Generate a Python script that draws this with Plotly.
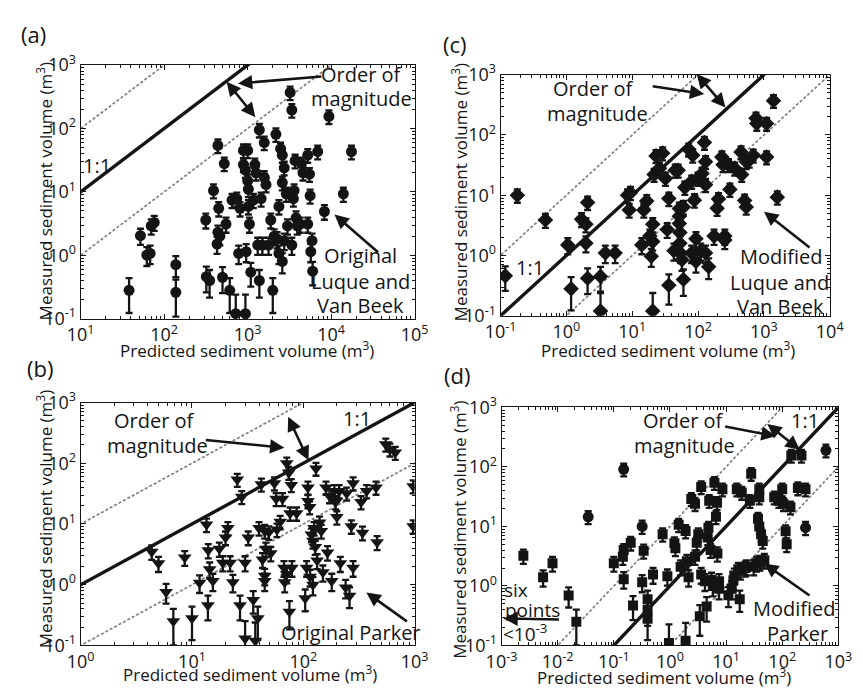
import plotly.graph_objects as go

W, H = 863, 696

# ---------------- data (predicted, measured) in m^3 ----------------
A_PTS = [(38,0.28),(52,2.04),(62,1.01),(68,1.07),(70,2.9),(76,3.3),(138,0.71),(138,0.26),
 (315,3.6),(320,0.46),(350,0.4),(390,10.5),(440,54),(450,5.5),(440,2.3),(430,1.5),(465,2.0),
 (500,0.45),(525,28),(550,3.1),(610,0.28),(650,7.4),(740,7.8),(780,1.07),(810,5.5),(720,0.12),
 (890,45),(1000,45),(890,27),(940,22),(960,1.14),(940,0.12),(1020,5.9),(1050,3.1),(1000,15),
 (1020,11),(1090,0.54),(1170,7.4),(1220,27),(1260,20),(1320,1.45),(1380,95),(1380,0.4),(1450,7.8),
 (1500,1.45),(1580,60),(1580,17),(1660,13),(1780,1.45),(1890,3.6),(2000,0.28),(2080,2.0),(2180,81),
 (2250,1.8),(2370,5.9),(2370,1.07),(2480,48),(2600,38),(2600,14),(2600,0.8),(2740,24),(2740,1.7),
 (2900,9.3),(3000,2.9),(3230,370),(3380,195),(3530,7.8),(3380,1.45),(3700,31),(3600,10.5),(3800,3.9),
 (3930,2.9),(4260,3.1),(4400,28),(4600,20),(5240,38),(5240,3.1),(5500,19),(5600,8.7),(5700,1.14),
 (5900,1.7),(6000,0.56),(6900,43),(8300,4.9),(9400,155),(14000,9.3),(17500,43)]

C_PTS = [(0.118,0.46),(0.18,10),(0.48,3.9),(1.05,1.5),(1.18,0.28),(1.7,4.0),(1.98,3.3),(1.98,1.6),
 (2.1,7.6),(2.1,0.42),(3.3,0.45),(3.3,0.12),(3.9,1.1),(5.5,1.1),(8.5,10),(9,5.7),(9.4,11),(14,1.5),
 (15,5.7),(16.6,8),(18.5,2.1),(19.5,0.97),(20.5,3.3),(20.5,0.12),(20.5,1.7),(21.5,22),(23,45),(26,28),
 (29,50),(32,19),(34,2.7),(36,8.8),(36,0.32),(45,26),(50,26),(52,6),(52,4.5),(52,3.4),(53,2.4),
 (53,1.6),(54,1.1),(43,1.2),(57,0.85),(60,0.4),(60,6.4),(63,13.5),(72,58),(80,17),(80,1.1),(83,46),
 (88,8.3),(93,1.9),(93,0.8),(100,19),(110,1.2),(115,23),(125,75),(130,15),(130,36),(130,1.1),
 (145,0.65),(175,2.1),(195,6.1),(205,8.7),(230,43),(240,32),(255,2.1),(255,1.8),(290,32),(305,12.5),
 (360,28),(450,52),(460,22),(510,8.2),(540,6.4),(540,36),(600,38),(690,46),(760,190),(780,155),
 (1100,155),(1100,43),(1400,370),(1600,9.3)]

B_PTS = [(4.35,3.5),(5.0,2.25),(5.85,0.76),(6.8,0.25),(8.6,2.8),(10,0.28),(11.7,1.08),(13.5,9.8),
 (13.9,0.46),(14,3.7),(14.4,1.8),(15.4,1.15),(17.6,3.9),(18.9,2.3),(20,6),(21,8.6),(22,2.3),(23.3,1.1),
 (25.5,54),(27,0.46),(28,28),(30,2.3),(30,0.13),(32,6),(35.5,0.56),(37,0.12),(39,0.28),(40,8.6),
 (42,45),(43,2.6),(45,1.4),(45,1.15),(45,7.7),(46,3.9),(49,7.3),(51,3.3),(55,47),(57,26),(58,8.1),
 (62,10.9),(65,26),(67,1.9),(68,1.1),(71,1.5),(71,100),(74,70),(75,0.36),(76,15),(78,44),(79,1.9),
 (87,15),(104,0.6),(107,1.9),(110,40),(110,24),(114,19),(115,1.35),(118,6.7),(122,5.3),(122,1.0),
 (125,8.6),(128,4.2),(130,82),(133,2.5),(140,10.6),(145,7.7),(150,1.6),(160,40),(165,3.4),(172,29),
 (180,1.15),(190,35),(195,23),(200,13),(210,35),(215,2.25),(240,0.9),(260,0.66),(280,1.9),(280,47),
 (245,32),(270,9.2),(330,23),(340,7.2),(370,35),(450,40),(460,5),(550,205),(600,170),(670,150),
 (970,42),(970,9.2)]

D_SQ_PTS = [(0.00245,3.2),(0.0055,1.4),(0.0081,2.4),(0.0157,0.69),(0.0215,0.25),(0.1,2.4),(0.145,3.1),
 (0.15,4.0),(0.15,1.3),(0.2,5.3),(0.22,0.47),(0.34,3.9),(0.32,1.15),(0.4,0.6),(0.4,0.4),(0.4,0.28),
 (0.5,1.55),(0.74,7.4),(0.9,1.45),(1.2,5.2),(1.25,4.3),(0.96,0.11),(1.43,10.7),(1.55,2.1),(1.9,0.12),
 (1.9,8.4),(2.0,2.6),(2.15,1.4),(2.4,29),(2.8,3.1),(2.8,24),(3.0,5.3),(3.2,7.4),(3.4,0.31),(3.6,46),
 (3.6,1.55),(4.2,1.2),(4.5,0.45),(4.7,6.5),(4.85,9.5),(5,27),(5.3,4),(5.5,1.27),(5.8,1.0),(6.2,54),
 (6.6,14.5),(6.9,25),(7,3.5),(7.5,1.2),(7.5,0.9),(8.6,42),(11,0.7),(12.6,0.9),(13.5,1.25),(14,1.5),
 (15.5,42),(16.5,1.9),(17.5,0.6),(18,1.8),(19,37),(22,2.0),(23,2.1),(26.5,27),(28,77),(31,2.1),
 (35,2.4),(37,13.5),(39,10),(39,42),(39,31),(40,2.5),(42,7.4),(45,5.7),(48,2.7),(72,31),(87,27),
 (100,42),(105,24),(115,8.3),(120,5),(140,21),(145,155),(190,44),(220,155),(260,42)]
D_CIRC_PTS = [(0.035,14.5),(0.15,91),(0.32,10),(260,9.5),(600,190)]

# axis ranges (log10 decades)
A_XR, C_XR, B_XR, D_XR = (1, 5), (-1, 4), (0, 3), (-3, 3)
Y_R = (-1, 3)

# ---------------- layout helpers ----------------
def P(px, py):
    return px / W, 1 - py / H

FONT = "Open Sans"
INK = "#141414"
ERR_REL, ERR_ABS = 0.24, 0.09

panels = {
    "a": ("x", "y", (67, 413), (53, 316), A_XR),
    "c": ("x2", "y2", (502, 843), (63, 313), C_XR),
    "b": ("x3", "y3", (67, 413), (403, 655), B_XR),
    "d": ("x4", "y4", (503, 852), (408, 655), D_XR),
}

fig = go.Figure()

def add_ref_lines(xa, ya, xr):
    xs = [10 ** (xr[0] - 1), 10 ** (xr[1] + 1)]
    for f, style in [(10, "dash"), (0.1, "dash"), (1, "solid")]:
        ys = [v * f for v in xs]
        if style == "solid":
            line = dict(color=INK, width=3.4)
        else:
            line = dict(color="#808080", width=1.7, dash="3px,2px")
        fig.add_trace(go.Scatter(x=xs, y=ys, mode="lines", line=line,
                                 xaxis=xa, yaxis=ya, hoverinfo="skip"))

def add_points(pts, xa, ya, symbol, size):
    xs = [p[0] for p in pts]
    ys = [p[1] for p in pts]
    err = [ERR_REL * v + ERR_ABS for v in ys]
    errm = [min(e, 0.95 * v) for e, v in zip(err, ys)]
    fig.add_trace(go.Scatter(
        x=xs, y=ys, mode="markers", xaxis=xa, yaxis=ya,
        marker=dict(symbol=symbol, size=size, color=INK, line=dict(width=0)),
        error_y=dict(type="data", symmetric=False, array=err, arrayminus=errm,
                     color=INK, thickness=2.3, width=3.5)))

for key, (xa, ya, xd, yd, xr) in panels.items():
    add_ref_lines(xa, ya, xr)

add_points(A_PTS, "x", "y", "circle", 11)
add_points(C_PTS, "x2", "y2", "diamond", 12)
add_points(B_PTS, "x3", "y3", "triangle-down", 12)
add_points(D_SQ_PTS, "x4", "y4", "square", 10)
add_points(D_CIRC_PTS, "x4", "y4", "circle", 11)

layout = dict(width=W, height=H, margin=dict(l=0, r=0, t=0, b=0),
              paper_bgcolor="white", plot_bgcolor="white", showlegend=False,
              font=dict(family=FONT, color=INK))

def axis_common(rng, anchor, domain):
    lo, hi = rng
    tv = [10.0 ** k for k in range(lo, hi + 1)]
    tt = ["10<sup>%d</sup>" % k for k in range(lo, hi + 1)]
    minor_v = [m * 10.0 ** k for k in range(lo, hi) for m in range(2, 10)]
    return dict(type="log", range=[lo, hi], domain=domain, anchor=anchor,
                tickmode="array", tickvals=tv, ticktext=tt,
                ticks="inside", ticklen=5, tickwidth=1, tickcolor=INK,
                minor=dict(tickmode="array", tickvals=minor_v, ticks="inside",
                           ticklen=3, tickwidth=1, tickcolor=INK, showgrid=False),
                showline=True, linecolor=INK, linewidth=1, mirror="allticks",
                showgrid=False, zeroline=False,
                tickfont=dict(family=FONT, size=18, color=INK))

for key, (xa, ya, xd, yd, xr) in panels.items():
    xname = "xaxis" + xa[1:]
    yname = "yaxis" + ya[1:]
    xdom = [xd[0] / W, xd[1] / W]
    ydom = [1 - yd[1] / H, 1 - yd[0] / H]
    layout[xname] = axis_common(xr, ya, xdom)
    layout[yname] = axis_common(Y_R, xa, ydom)

ann = []

def text(t, px, py, size=20, angle=0):
    x, y = P(px, py)
    ann.append(dict(text=t, x=x, y=y, xref="paper", yref="paper", showarrow=False,
                    xanchor="center", yanchor="middle", textangle=angle,
                    font=dict(family=FONT, size=size, color=INK)))

def arrow(tail, head, both=False):
    x, y = P(*head)
    ann.append(dict(text="", x=x, y=y, xref="paper", yref="paper", showarrow=True,
                    ax=tail[0] - head[0], ay=tail[1] - head[1],
                    arrowhead=2, arrowsize=1.1, arrowwidth=2.6, arrowcolor=INK,
                    arrowside="end+start" if both else "end"))

YT = "Measured sediment volume (m<sup>3</sup>)"
XT = "Predicted sediment volume (m<sup>3</sup>)"

# panel (a)
text("(a)", 18, 21, 22)
text("Order of", 358, 63); text("magnitude", 358, 88)
text("1:1", 84, 157)
text("Original", 357, 250); text("Luque and", 357, 277); text("Van Beek", 357, 302)
arrow((315, 65), (230, 72)); arrow((218, 70), (248, 107), both=True)
arrow((375, 247), (330, 208))
text(YT, 29, 184, 17, -90); text(XT, 239, 348, 17)

# panel (c)
text("(c)", 455, 31, 22)
text("Order of", 598, 77); text("magnitude", 602, 103)
text("1:1", 532, 263)
text("Modified", 793, 252); text("Luque and", 791, 278); text("Van Beek", 792, 303)
arrow((660, 75), (713, 83)); arrow((705, 62), (735, 97), both=True)
arrow((822, 242), (775, 205))
text(YT, 459, 185, 17, -90); text(XT, 675, 348, 17)

# panel (b)
text("(b)", 25, 367, 22)
text("Order of", 143, 422); text("magnitude", 147, 448)
text("1:1", 353, 420)
text("Original Parker", 347, 642)
arrow((198, 442), (278, 450)); arrow((282, 418), (303, 463), both=True)
arrow((405, 630), (363, 600))
text(YT, 29, 524, 17, -90); text(XT, 242, 684, 17)

# panel (d)
text("(d)", 457, 374, 22)
text("Order of", 692, 422); text("magnitude", 693, 448)
text("1:1", 817, 422)
text("Modified", 807, 617); text("Parker", 810, 643)
text("six", 518, 597, 19); text("points", 535, 618, 19); text("<10<sup>-3</sup>", 527, 642, 19)
arrow((735, 428), (787, 438)); arrow((778, 425), (812, 452), both=True)
arrow((822, 603), (775, 570))
arrow((562, 628), (505, 627))
text(YT, 459, 535, 17, -90); text(XT, 671, 687, 17)

layout["annotations"] = ann
fig.update_layout(**layout)
fig.write_html("out.html")
